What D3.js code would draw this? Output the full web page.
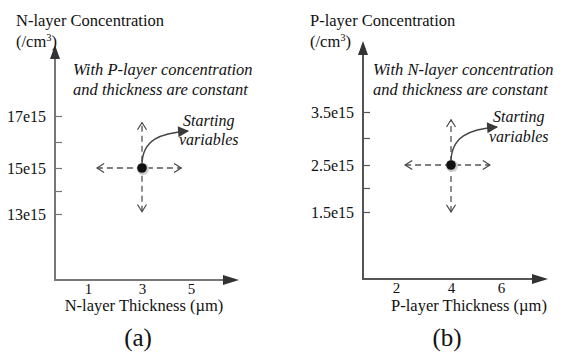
<!DOCTYPE html>
<html>
<head>
<meta charset="utf-8">
<script src="https://cdn.jsdelivr.net/npm/d3@7"></script>
<style>
  html, body { margin: 0; padding: 0; background: #fff; }
  svg { display: block; font-family: 'Liberation Serif', 'Times New Roman', serif; }
</style>
</head>
<body>
<svg id="chart" width="565" height="354"></svg>
<script>
// panel (a): N-layer, panel (b): P-layer
const aXTicks = [1, 3, 5];
const aYTicks = [13, 14, 15, 16, 17];
const aYLabels = ['13e15', '', '15e15', '', '17e15'];
const aStart = [3, 15];
const aSpanX = [1.33, 4.6];
const aSpanY = [13.1, 16.75];

const bXTicks = [2, 4, 6];
const bYTicks = [1.5, 2, 2.5, 3, 3.5];
const bYLabels = ['1.5e15', '', '2.5e15', '', '3.5e15'];
const bStart = [4, 2.5];
const bSpanX = [2.33, 5.56];
const bSpanY = [1.5, 3.35];

const panels = [
  {
    id: 'a', title: 'N-layer Concentration', xTitle: 'N-layer Thickness (\u00b5m)', caption: '(a)',
    note: ['With P-layer concentration', 'and thickness are constant'],
    xTicks: aXTicks, yTicks: aYTicks, yLabels: aYLabels, start: aStart, spanX: aSpanX, spanY: aSpanY,
    ox: 55, oy: 280, xEnd: 239, yTop: 45,
    xRange: [88, 142, 191], yRange: [214, 191, 168, 142, 116],
    axisColor: '#777', titleX: 16, noteX: 73, capX: 138, xTitleX: 144,
    arrowEnd: [188, 131], startTxt: [183, 126], varTxt: [179, 145]
  },
  {
    id: 'b', title: 'P-layer Concentration', xTitle: 'P-layer Thickness (\u00b5m)', caption: '(b)',
    note: ['With N-layer concentration', 'and thickness are constant'],
    xTicks: bXTicks, yTicks: bYTicks, yLabels: bYLabels, start: bStart, spanX: bSpanX, spanY: bSpanY,
    ox: 363, oy: 279, xEnd: 548, yTop: 41,
    xRange: [396, 451, 501], yRange: [212, 188, 165, 138, 112],
    axisColor: '#555', titleX: 310, noteX: 373, capX: 447, xTitleX: 469,
    arrowEnd: [497, 127], startTxt: [493, 122], varTxt: [489, 142]
  }
];

const svg = d3.select('#chart');
const defs = svg.append('defs');

defs.append('marker')
  .attr('id', 'open-head')
  .attr('viewBox', '0 0 10 10')
  .attr('refX', 9).attr('refY', 5)
  .attr('markerWidth', 9).attr('markerHeight', 10)
  .attr('markerUnits', 'userSpaceOnUse')
  .attr('orient', 'auto-start-reverse')
  .append('path')
  .attr('d', 'M1,0 L9,5 L1,10')
  .attr('fill', 'none').attr('stroke', '#444').attr('stroke-width', 1.3);

defs.append('marker')
  .attr('id', 'solid-head')
  .attr('viewBox', '0 0 10 10')
  .attr('refX', 9).attr('refY', 5)
  .attr('markerWidth', 14).attr('markerHeight', 11)
  .attr('markerUnits', 'userSpaceOnUse')
  .attr('orient', 'auto')
  .append('path')
  .attr('d', 'M0,0 L10,5 L0,10 Z')
  .attr('fill', '#3a3a3a');

panels.forEach(p => {
  const g = svg.append('g').attr('class', 'panel-' + p.id);

  const x = d3.scaleLinear().domain(p.xTicks).range(p.xRange);
  const y = d3.scaleLinear().domain(p.yTicks).range(p.yRange);

  // axes lines with arrowheads
  g.append('line')
    .attr('x1', p.ox).attr('y1', p.oy).attr('x2', p.ox).attr('y2', p.yTop + 12)
    .attr('stroke', p.axisColor).attr('stroke-width', 2);
  g.append('path')
    .attr('d', `M${p.ox},${p.yTop} L${p.ox - 5},${p.yTop + 14} L${p.ox + 5},${p.yTop + 14} Z`)
    .attr('fill', '#333');
  g.append('line')
    .attr('x1', p.ox - 1).attr('y1', p.oy).attr('x2', p.xEnd - 12).attr('y2', p.oy)
    .attr('stroke', p.axisColor).attr('stroke-width', 2);
  g.append('path')
    .attr('d', `M${p.xEnd},${p.oy} L${p.xEnd - 16},${p.oy - 5} L${p.xEnd - 16},${p.oy + 5} Z`)
    .attr('fill', '#333');

  // y ticks, drawn inward
  const yAxis = d3.axisLeft(y)
    .tickValues(p.yTicks)
    .tickSizeInner(-7).tickSizeOuter(0).tickPadding(9)
    .tickFormat((d, i) => p.yLabels[i]);
  const gy = g.append('g').attr('transform', `translate(${p.ox},0)`).call(yAxis);
  gy.attr('font-family', null).attr('font-size', null);
  gy.select('.domain').remove();
  gy.selectAll('line').attr('stroke', p.axisColor).attr('stroke-width', 1.2);
  gy.selectAll('text').attr('font-size', 16).attr('fill', '#111');

  // x tick labels only
  const xAxis = d3.axisBottom(x).tickValues(p.xTicks).tickSize(0).tickPadding(3)
    .tickFormat(d3.format('d'));
  const gx = g.append('g').attr('transform', `translate(0,${p.oy})`).call(xAxis);
  gx.attr('font-family', null).attr('font-size', null);
  gx.select('.domain').remove();
  gx.selectAll('text').attr('font-size', 15).attr('fill', '#111');

  // titles
  g.append('text').attr('x', p.titleX).attr('y', 26)
    .attr('font-size', 16.5).attr('fill', '#111').text(p.title);
  const unit = g.append('text').attr('x', p.titleX).attr('y', 47)
    .attr('font-size', 16.5).attr('fill', '#111');
  unit.append('tspan').text('(/cm');
  unit.append('tspan').attr('dy', -6).attr('font-size', 10.5).text('3');
  unit.append('tspan').attr('dy', 6).text(')');

  g.append('text').attr('x', p.xTitleX).attr('y', 311)
    .attr('text-anchor', 'middle').attr('font-size', 16.5).attr('fill', '#111')
    .text(p.xTitle);
  g.append('text').attr('x', p.capX).attr('y', 346)
    .attr('text-anchor', 'middle').attr('font-size', 25).attr('fill', '#111')
    .text(p.caption);

  // note
  p.note.forEach((line, i) => {
    g.append('text').attr('x', p.noteX).attr('y', 75 + i * 20)
      .attr('font-size', 16.5).attr('font-style', 'italic').attr('fill', '#111')
      .text(line);
  });

  const cx = x(p.start[0]), cy = y(p.start[1]);

  // dashed exploration arrows
  g.append('line')
    .attr('x1', x(p.spanX[0])).attr('y1', cy).attr('x2', x(p.spanX[1])).attr('y2', cy)
    .attr('stroke', '#555').attr('stroke-width', 1.3).attr('stroke-dasharray', '6,4')
    .attr('marker-start', 'url(#open-head)').attr('marker-end', 'url(#open-head)');
  g.append('line')
    .attr('x1', cx).attr('y1', y(p.spanY[0])).attr('x2', cx).attr('y2', y(p.spanY[1]))
    .attr('stroke', '#555').attr('stroke-width', 1.3).attr('stroke-dasharray', '6,4')
    .attr('marker-start', 'url(#open-head)').attr('marker-end', 'url(#open-head)');

  // curved solid arrow toward label
  const [ex, ey] = p.arrowEnd;
  g.append('path')
    .attr('d', `M${cx},${cy - 3} C${cx},${cy - 28} ${cx + 18},${ey + 2} ${ex},${ey}`)
    .attr('fill', 'none').attr('stroke', '#444').attr('stroke-width', 1.4)
    .attr('marker-end', 'url(#solid-head)');

  // starting point
  g.append('circle').attr('cx', cx + 1).attr('cy', cy + 1).attr('r', 6).attr('fill', '#ccc');
  g.append('circle').attr('cx', cx).attr('cy', cy).attr('r', 4.8).attr('fill', '#111');

  g.append('text').attr('x', p.startTxt[0]).attr('y', p.startTxt[1])
    .attr('font-size', 16).attr('font-style', 'italic').attr('fill', '#111').text('Starting');
  g.append('text').attr('x', p.varTxt[0]).attr('y', p.varTxt[1])
    .attr('font-size', 16).attr('font-style', 'italic').attr('fill', '#111').text('variables');
});
</script>
</body>
</html>
